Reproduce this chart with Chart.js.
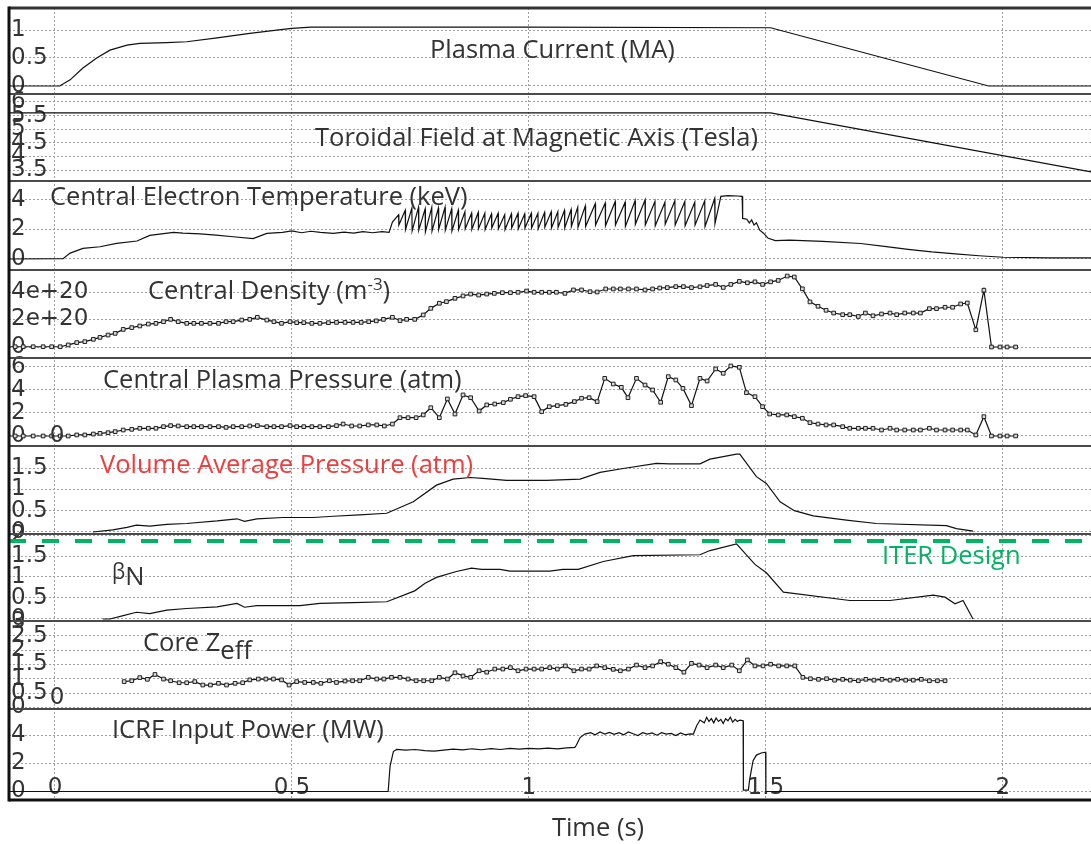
<!DOCTYPE html>
<html>
<head>
<meta charset="utf-8">
<title>Discharge time traces</title>
<script src="https://cdn.jsdelivr.net/npm/chart.js@4.4.1/dist/chart.umd.min.js"></script>
<style>
  html, body { margin: 0; padding: 0; background: #fff; }
  #wrap { width: 1091px; height: 844px; }
</style>
</head>
<body>
<div id="wrap"><canvas id="traces" width="1091" height="844"></canvas></div>
<script>
// time axis
const xMin = -0.097, xMax = 2.186;
const xTicks = [0, 0.5, 1, 1.5, 2];
const xTickLabels = ['0', '0.5', '1', '1.5', '2'];

// tick values per panel
const currentTicks = [0, 0.5, 1];
const fieldTicks = [3.5, 4, 4.5, 5, 5.5, 6];
const tempTicks = [0, 2, 4];
const densityTicks = [0, 2, 4];              // in 1e20 m^-3
const densityTickLabels = ['0', '2e+20', '4e+20'];
const pressureTicks = [0, 2, 4, 6];
const volPressureTicks = [0, 0.5, 1, 1.5];
const betaTicks = [0, 0.5, 1, 1.5, 2];
const zeffTicks = [0, 0.5, 1, 1.5, 2, 2.5, 3];
const icrfTicks = [0, 2, 4];

// [time (s), value]
const plasmaCurrent = [[-0.097,0],[0.01,0],[0.032,0.11],[0.059,0.32],[0.088,0.5],[0.116,0.64],[0.152,0.73],[0.179,0.76],[0.236,0.775],[0.278,0.79],[0.342,0.86],[0.411,0.94],[0.481,1.01],[0.5,1.03],[0.54,1.05],[1.0,1.05],[1.51,1.04],[1.97,0],[2.186,0]];

const toroidalField = [[-0.097,5.6],[1.51,5.6],[2.186,3.43]];

const tempRampUp = [[-0.097,0],[0.017,0.02],[0.032,0.4],[0.059,0.72],[0.095,0.83],[0.13,1.06],[0.173,1.22],[0.2,1.6],[0.25,1.81],[0.27,1.76],[0.306,1.7],[0.34,1.62],[0.376,1.51],[0.418,1.38],[0.447,1.74],[0.48,1.81],[0.5,1.9],[0.52,1.78],[0.54,1.88],[0.56,1.8],[0.587,1.74],[0.61,1.82],[0.63,1.75],[0.65,1.85],[0.67,1.78],[0.69,1.86],[0.705,1.8],[0.712,2.5]];
const sawCrashTimes = [0.725,0.739,0.753,0.767,0.781,0.795,0.809,0.823,0.837,0.851,0.865,0.879,0.893,0.907,0.921,0.935,0.949,0.963,0.977,0.991,1.005,1.019,1.033,1.047,1.061,1.075,1.089,1.103,1.119,1.140,1.161,1.182,1.203,1.224,1.245,1.266,1.287,1.308,1.329,1.350,1.371,1.392];
const sawPeaks = [3.0,3.3,3.45,3.5,3.4,3.5,3.45,3.5,3.4,3.3,3.2,3.1,3.15,3.1,3.05,3.1,3.0,3.05,3.1,3.05,3.1,3.1,3.15,3.2,3.2,3.3,3.35,3.5,3.6,3.75,3.8,3.9,3.85,3.95,4.0,3.9,3.85,3.95,3.9,3.85,3.95,4.1];
const sawTroughs = [2.3,2.0,1.9,1.95,1.85,1.9,2.0,1.95,1.9,2.0,2.05,2.0,2.05,2.0,2.1,2.05,2.0,2.1,2.05,2.1,2.1,2.05,2.15,2.1,2.15,2.1,2.2,2.15,2.2,2.3,2.25,2.3,2.2,2.35,2.3,2.25,2.35,2.3,2.25,2.3,2.2,2.4];
const tempAfterSawteeth = [[1.405,4.25],[1.42,4.3],[1.44,4.27],[1.45,4.25],[1.451,2.75],[1.46,2.7],[1.465,2.45],[1.47,2.65],[1.475,2.3],[1.48,2.45],[1.487,1.95],[1.495,1.75],[1.505,1.4],[1.52,1.25],[1.55,1.28],[1.62,1.2],[1.7,1.05],[1.75,0.85],[1.8,0.65],[1.85,0.48],[1.9,0.35],[1.95,0.22],[2.0,0.12],[2.1,0.08],[2.186,0.07]];

const centralDensity = [[-0.105,0.02],[-0.084,0.02],[-0.067,0.02],[-0.046,0.02],[-0.025,0.02],[-0.007,0.02],[0.011,0.02],[0.028,0.15],[0.046,0.32],[0.063,0.39],[0.081,0.56],[0.095,0.70],[0.112,0.87],[0.127,0.99],[0.144,1.28],[0.162,1.41],[0.179,1.53],[0.197,1.67],[0.213,1.72],[0.229,1.84],[0.244,2.01],[0.260,1.84],[0.278,1.72],[0.293,1.72],[0.309,1.72],[0.327,1.72],[0.345,1.72],[0.361,1.84],[0.376,1.84],[0.394,1.96],[0.411,2.01],[0.427,2.16],[0.447,1.96],[0.462,1.84],[0.478,1.72],[0.496,1.84],[0.510,1.77],[0.525,1.77],[0.542,1.72],[0.559,1.72],[0.577,1.77],[0.594,1.79],[0.612,1.79],[0.629,1.79],[0.646,1.79],[0.662,1.84],[0.678,1.90],[0.693,2.01],[0.712,2.16],[0.728,1.92],[0.742,2.01],[0.759,2.01],[0.777,2.33],[0.793,2.81],[0.811,3.18],[0.826,3.30],[0.844,3.54],[0.861,3.71],[0.877,3.85],[0.894,3.78],[0.911,3.85],[0.927,3.90],[0.944,3.95],[0.961,3.95],[0.977,3.98],[0.995,4.07],[1.011,3.98],[1.027,3.98],[1.043,3.98],[1.058,3.98],[1.076,3.90],[1.094,4.15],[1.111,4.15],[1.129,4.02],[1.144,4.00],[1.162,4.22],[1.178,4.22],[1.193,4.22],[1.210,4.22],[1.227,4.22],[1.245,4.15],[1.261,4.22],[1.276,4.29],[1.292,4.32],[1.310,4.39],[1.326,4.39],[1.343,4.32],[1.361,4.38],[1.376,4.47],[1.394,4.55],[1.410,4.33],[1.426,4.55],[1.444,4.77],[1.461,4.67],[1.477,4.74],[1.493,4.55],[1.510,4.74],[1.526,4.84],[1.545,5.16],[1.560,5.09],[1.577,4.23],[1.593,3.28],[1.610,2.96],[1.627,2.67],[1.643,2.47],[1.662,2.35],[1.677,2.35],[1.695,2.22],[1.710,2.47],[1.726,2.27],[1.744,2.40],[1.762,2.47],[1.776,2.35],[1.793,2.47],[1.811,2.47],[1.826,2.47],[1.845,2.79],[1.860,2.79],[1.878,2.89],[1.894,2.89],[1.911,3.13],[1.925,3.20],[1.943,1.25],[1.960,4.13],[1.976,0],[1.994,0],[2.009,0],[2.027,0]];

const centralPressure = [[-0.105,0],[-0.084,0],[-0.067,0],[-0.046,0],[-0.025,0],[-0.007,0],[0.011,0],[0.028,0],[0.046,0.09],[0.063,0.09],[0.081,0.17],[0.095,0.23],[0.112,0.29],[0.127,0.38],[0.144,0.52],[0.162,0.58],[0.179,0.67],[0.197,0.67],[0.213,0.67],[0.229,0.81],[0.244,0.90],[0.260,0.87],[0.278,0.81],[0.293,0.81],[0.309,0.81],[0.327,0.81],[0.345,0.81],[0.361,0.75],[0.376,0.81],[0.394,0.81],[0.411,0.87],[0.427,0.90],[0.447,0.81],[0.462,0.81],[0.478,0.81],[0.496,0.90],[0.510,0.81],[0.525,0.81],[0.542,0.81],[0.559,0.81],[0.577,0.81],[0.594,0.90],[0.608,1.04],[0.626,0.87],[0.643,0.87],[0.661,0.96],[0.679,0.96],[0.695,0.87],[0.712,1.04],[0.728,1.59],[0.745,1.59],[0.762,1.59],[0.777,1.83],[0.793,2.46],[0.811,1.59],[0.828,3.22],[0.844,1.91],[0.861,3.57],[0.877,3.33],[0.895,2.17],[0.911,2.70],[0.928,2.78],[0.946,2.90],[0.961,3.19],[0.977,3.42],[0.993,3.51],[1.011,3.42],[1.027,2.12],[1.043,2.55],[1.060,2.64],[1.078,2.75],[1.096,2.99],[1.111,3.28],[1.127,3.33],[1.144,2.99],[1.160,5.01],[1.178,4.52],[1.195,4.23],[1.209,3.33],[1.227,5.01],[1.245,4.43],[1.261,4.00],[1.278,2.93],[1.294,5.16],[1.310,4.87],[1.325,4.14],[1.343,2.64],[1.361,5.01],[1.376,4.78],[1.394,5.83],[1.410,5.45],[1.426,6.09],[1.444,5.97],[1.459,3.77],[1.477,3.42],[1.493,2.55],[1.508,1.91],[1.526,1.83],[1.544,1.83],[1.560,1.68],[1.577,1.54],[1.593,1.16],[1.610,1.04],[1.627,0.96],[1.643,0.96],[1.662,0.81],[1.677,0.67],[1.695,0.67],[1.710,0.67],[1.726,0.67],[1.744,0.52],[1.762,0.67],[1.776,0.52],[1.793,0.52],[1.811,0.52],[1.826,0.52],[1.845,0.67],[1.860,0.52],[1.878,0.52],[1.894,0.52],[1.911,0.52],[1.925,0.52],[1.943,0.09],[1.960,1.68],[1.976,0],[1.994,0],[2.009,0],[2.027,0]];

const volumeAvgPressure = [[0.08,0],[0.122,0.05],[0.152,0.11],[0.172,0.16],[0.2,0.14],[0.236,0.18],[0.278,0.2],[0.342,0.26],[0.384,0.31],[0.4,0.25],[0.426,0.31],[0.481,0.34],[0.545,0.34],[0.587,0.37],[0.643,0.40],[0.70,0.44],[0.756,0.71],[0.805,1.10],[0.84,1.24],[0.876,1.28],[0.903,1.26],[0.953,1.21],[1.037,1.21],[1.108,1.24],[1.15,1.40],[1.199,1.49],[1.269,1.61],[1.297,1.60],[1.361,1.60],[1.382,1.71],[1.438,1.83],[1.445,1.83],[1.48,1.30],[1.501,1.14],[1.53,0.71],[1.56,0.5],[1.6,0.38],[1.67,0.28],[1.733,0.2],[1.881,0.15],[1.902,0.08],[1.937,0.02]];

const betaN = [[0.101,0],[0.116,0],[0.144,0.08],[0.172,0.16],[0.2,0.13],[0.236,0.21],[0.278,0.25],[0.342,0.29],[0.384,0.37],[0.4,0.28],[0.426,0.32],[0.481,0.32],[0.517,0.32],[0.559,0.37],[0.629,0.39],[0.7,0.41],[0.759,0.67],[0.781,0.85],[0.805,0.99],[0.847,1.13],[0.879,1.21],[0.9,1.18],[0.939,1.18],[0.96,1.14],[1.044,1.14],[1.072,1.18],[1.104,1.18],[1.157,1.37],[1.22,1.51],[1.361,1.53],[1.382,1.63],[1.438,1.79],[1.477,1.30],[1.501,1.10],[1.537,0.64],[1.677,0.44],[1.762,0.44],[1.853,0.57],[1.878,0.52],[1.899,0.36],[1.916,0.44],[1.937,0]];
const iterBetaN = 1.86;

const coreZeff = [[0.146,0.90],[0.162,0.93],[0.179,1.04],[0.195,0.98],[0.211,1.15],[0.229,0.99],[0.244,0.93],[0.262,0.86],[0.278,0.86],[0.295,0.90],[0.312,0.78],[0.328,0.78],[0.345,0.84],[0.362,0.78],[0.380,0.84],[0.396,0.86],[0.411,0.96],[0.429,0.99],[0.445,0.99],[0.461,0.99],[0.478,0.96],[0.494,0.78],[0.510,0.90],[0.527,0.87],[0.545,0.87],[0.561,0.84],[0.579,0.93],[0.594,0.87],[0.612,0.92],[0.628,0.93],[0.643,0.93],[0.661,1.05],[0.679,0.99],[0.694,0.99],[0.710,1.05],[0.728,1.05],[0.745,0.99],[0.762,0.93],[0.778,0.93],[0.795,0.93],[0.811,1.05],[0.828,0.99],[0.844,1.21],[0.861,1.10],[0.877,1.05],[0.895,1.28],[0.911,1.23],[0.928,1.34],[0.945,1.34],[0.961,1.39],[0.977,1.28],[0.994,1.34],[1.011,1.34],[1.027,1.34],[1.044,1.39],[1.060,1.34],[1.077,1.45],[1.095,1.28],[1.111,1.34],[1.127,1.34],[1.143,1.45],[1.160,1.39],[1.178,1.33],[1.193,1.28],[1.210,1.34],[1.227,1.48],[1.245,1.39],[1.261,1.45],[1.278,1.60],[1.294,1.51],[1.310,1.39],[1.327,1.23],[1.343,1.54],[1.359,1.48],[1.376,1.39],[1.394,1.48],[1.410,1.39],[1.428,1.48],[1.444,1.28],[1.461,1.66],[1.477,1.45],[1.494,1.45],[1.510,1.51],[1.527,1.45],[1.544,1.45],[1.561,1.45],[1.578,1.05],[1.594,1.0],[1.611,0.98],[1.628,1.0],[1.645,0.95],[1.662,0.98],[1.678,0.95],[1.695,0.93],[1.711,0.98],[1.728,0.95],[1.745,0.98],[1.762,0.95],[1.778,0.98],[1.795,0.95],[1.811,0.95],[1.828,0.98],[1.845,0.93],[1.862,0.93],[1.878,0.93]];

const icrfPower = [[-0.097,0],[0.703,0],[0.707,1.8],[0.714,2.85],[0.721,3.0],[0.74,2.95],[0.76,3.0],[0.78,2.92],[0.80,2.88],[0.82,2.95],[0.84,3.02],[0.86,2.97],[0.88,3.05],[0.90,2.98],[0.92,3.06],[0.94,3.0],[0.96,3.08],[0.98,3.02],[1.00,3.08],[1.02,3.05],[1.04,3.1],[1.06,3.05],[1.08,3.12],[1.097,3.15],[1.10,3.3],[1.108,3.85],[1.118,4.1],[1.13,4.2],[1.14,4.05],[1.15,4.25],[1.16,4.1],[1.17,4.22],[1.18,4.08],[1.19,4.2],[1.20,4.05],[1.21,4.25],[1.22,4.12],[1.23,4.0],[1.24,4.2],[1.25,4.1],[1.26,4.18],[1.27,4.02],[1.28,4.2],[1.29,4.1],[1.30,4.15],[1.31,4.0],[1.32,4.18],[1.33,4.05],[1.34,4.12],[1.347,4.1],[1.354,4.7],[1.361,5.1],[1.37,4.9],[1.375,5.3],[1.38,5.0],[1.385,5.2],[1.39,4.9],[1.395,5.25],[1.40,5.0],[1.405,5.15],[1.41,4.85],[1.415,5.2],[1.42,5.05],[1.425,5.3],[1.43,4.95],[1.435,5.15],[1.44,5.0],[1.445,5.1],[1.452,5.05],[1.4525,0.1],[1.463,0.1],[1.466,0.9],[1.473,2.2],[1.48,2.6],[1.49,2.75],[1.4995,2.8],[1.5,0],[2.0,0]];

const tickFont = { family: 'DejaVu Sans', size: 23, lineHeight: 0.05 };
const titleFont = '"Open Sans", sans-serif';

// top to bottom
const panels = [
  { id: 'yCur',  min: -0.143, max: 1.393, ticks: currentTicks,     weight: 86 },
  { id: 'yBt',   min: 3.096,  max: 6.294, ticks: fieldTicks,       weight: 87 },
  { id: 'yTe',   min: -0.746, max: 5.288, ticks: tempTicks,        weight: 89 },
  { id: 'yNe',   min: -0.8,   max: 5.6,   ticks: densityTicks,     weight: 88, labels: densityTickLabels },
  { id: 'yP',    min: -0.87,  max: 6.78,  ticks: pressureTicks,    weight: 88 },
  { id: 'yPav',  min: -0.047, max: 2.019, ticks: volPressureTicks, weight: 88 },
  { id: 'yBeta', min: -0.048, max: 2.024, ticks: betaTicks,        weight: 87 },
  { id: 'yZeff', min: -0.061, max: 3.026, ticks: zeffTicks,        weight: 88 },
  { id: 'yIcrf', min: -0.607, max: 5.89,  ticks: icrfTicks,        weight: 91 }
];

const panelTitles = [
  { x: 430, y: 58,  parts: [{ t: 'Plasma Current (MA)' }] },
  { x: 315, y: 146, parts: [{ t: 'Toroidal Field at Magnetic Axis (Tesla)' }] },
  { x: 50,  y: 205, parts: [{ t: 'Central Electron Temperature (keV)' }] },
  { x: 148, y: 299, parts: [{ t: 'Central Density (m' }, { t: '-3', size: 17, dy: -9 }, { t: ')' }] },
  { x: 103, y: 388, parts: [{ t: 'Central Plasma Pressure (atm)' }] },
  { x: 100, y: 473, color: '#f03c3c', parts: [{ t: 'Volume Average Pressure (atm)' }] },
  { x: 112, y: 585, parts: [{ t: 'β', size: 21, dy: -6 }, { t: 'N' }] },
  { x: 143, y: 651, parts: [{ t: 'Core Z' }, { t: 'eff', dy: 8 }] },
  { x: 112, y: 738, parts: [{ t: 'ICRF Input Power (MW)' }] },
  { x: 882, y: 564, color: '#00b464', parts: [{ t: 'ITER Design' }] }
];

function toPoints(pairs) {
  return pairs.map(([x, y]) => ({ x, y }));
}

function temperaturePoints() {
  const pts = toPoints(tempRampUp);
  sawCrashTimes.forEach((t, i) => {
    pts.push({ x: t, y: sawPeaks[i] });
    pts.push({ x: t + 0.0006, y: sawTroughs[i] });
  });
  return pts.concat(toPoints(tempAfterSawteeth));
}

function trace(label, points, yAxisID, markers) {
  return {
    label, data: points, yAxisID,
    borderColor: '#111', borderWidth: 1.2, tension: 0, fill: false,
    pointStyle: 'rect', pointRadius: markers ? 2.6 : 0,
    pointBorderColor: '#222', pointBackgroundColor: '#d8d8d8', pointBorderWidth: 1
  };
}

function buildScales() {
  const scales = {
    x: {
      type: 'linear', min: xMin, max: xMax, bounds: 'data',
      afterBuildTicks: s => { s.ticks = xTicks.map(v => ({ value: v })); },
      ticks: {
        mirror: true, padding: 0, autoSkip: false, maxRotation: 0, color: '#333',
        font: { family: 'DejaVu Sans', size: 23, lineHeight: 1 },
        callback: (v, i) => xTickLabels[i]
      },
      grid: { color: '#a0a0a0', lineWidth: 1, drawTicks: false },
      border: { display: false, dash: [2, 2] }
    }
  };
  // stacked left axes are laid out from the bottom up, so add them in reverse
  panels.slice().reverse().forEach(p => {
    scales[p.id] = {
      type: 'linear', position: 'left', stack: 'shot', stackWeight: p.weight,
      min: p.min, max: p.max, bounds: 'data',
      afterBuildTicks: s => { s.ticks = p.ticks.map(v => ({ value: v })); },
      ticks: {
        mirror: true, padding: 2, autoSkip: false, color: '#333', font: tickFont,
        callback: (v, i) => p.labels ? p.labels[i] : String(p.ticks[i])
      },
      grid: { color: '#a0a0a0', lineWidth: 1, drawTicks: false },
      border: { display: false, dash: [2, 2] }
    };
  });
  return scales;
}

function line(ctx, x1, y1, x2, y2) {
  ctx.beginPath();
  ctx.moveTo(x1, y1);
  ctx.lineTo(x2, y2);
  ctx.stroke();
}

function drawRichText(ctx, spec) {
  let x = spec.x;
  ctx.fillStyle = spec.color || '#333';
  ctx.textBaseline = 'alphabetic';
  ctx.textAlign = 'left';
  spec.parts.forEach(part => {
    ctx.font = (part.size || 25.5) + 'px ' + titleFont;
    ctx.fillText(part.t, x, spec.y + (part.dy || 0));
    x += ctx.measureText(part.t).width;
  });
}

const panelDecor = {
  id: 'panelDecor',
  afterDraw(chart) {
    const ctx = chart.ctx;
    const area = chart.chartArea;
    ctx.save();
    // panel separators
    ctx.strokeStyle = '#4a4a4a';
    ctx.lineWidth = 2;
    panels.slice(1).forEach(p => line(ctx, area.left, chart.scales[p.id].top, area.right, chart.scales[p.id].top));
    ctx.lineWidth = 3;
    ctx.strokeStyle = '#333';
    line(ctx, area.left, area.top, area.right, area.top);
    ctx.strokeStyle = '#111';
    line(ctx, area.left, area.bottom, area.right, area.bottom);
    line(ctx, area.left, area.top - 1.5, area.left, area.bottom + 1.5);

    panelTitles.forEach(t => drawRichText(ctx, t));

    // leftover per-panel time labels at t = 0
    const x0 = chart.scales.x.getPixelForValue(0);
    ctx.font = '23px "DejaVu Sans"';
    ctx.fillStyle = '#333';
    ctx.textAlign = 'center';
    ctx.textBaseline = 'middle';
    ctx.fillText('0', x0 + 2, chart.scales.yP.bottom - 10);
    ctx.fillText('0', x0 + 2, chart.scales.yZeff.bottom - 11);

    ctx.font = '25.5px ' + titleFont;
    ctx.textBaseline = 'alphabetic';
    ctx.fillText('Time (s)', 598, 836);
    ctx.restore();
  }
};

function drawTraces() {
  const ctx = document.getElementById('traces').getContext('2d');
  new Chart(ctx, {
    type: 'line',
    data: {
      datasets: [
        trace('Plasma Current', toPoints(plasmaCurrent), 'yCur', false),
        trace('Toroidal Field', toPoints(toroidalField), 'yBt', false),
        trace('Central Te', temperaturePoints(), 'yTe', false),
        trace('Central Density', toPoints(centralDensity), 'yNe', true),
        trace('Central Pressure', toPoints(centralPressure), 'yP', true),
        trace('Volume Average Pressure', toPoints(volumeAvgPressure), 'yPav', false),
        trace('Beta N', toPoints(betaN), 'yBeta', false),
        {
          label: 'ITER Design', yAxisID: 'yBeta',
          data: [{ x: xMin, y: iterBetaN }, { x: xMax, y: iterBetaN }],
          borderColor: '#00b464', borderWidth: 4, borderDash: [17, 16], pointRadius: 0, borderCapStyle: 'butt'
        },
        trace('Core Zeff', toPoints(coreZeff), 'yZeff', true),
        trace('ICRF Power', toPoints(icrfPower), 'yIcrf', false)
      ]
    },
    options: {
      responsive: false,
      animation: false,
      events: [],
      layout: { padding: { left: 5, right: 0, top: 8, bottom: 44 }, autoPadding: false },
      scales: buildScales(),
      plugins: { legend: { display: false }, tooltip: { enabled: false } }
    },
    plugins: [panelDecor]
  });
}

document.addEventListener('DOMContentLoaded', function() {
  Promise.all([
    document.fonts.load('26px "Open Sans"'),
    document.fonts.load('23px "DejaVu Sans"')
  ]).catch(() => {}).then(drawTraces);
});
</script>
</body>
</html>
